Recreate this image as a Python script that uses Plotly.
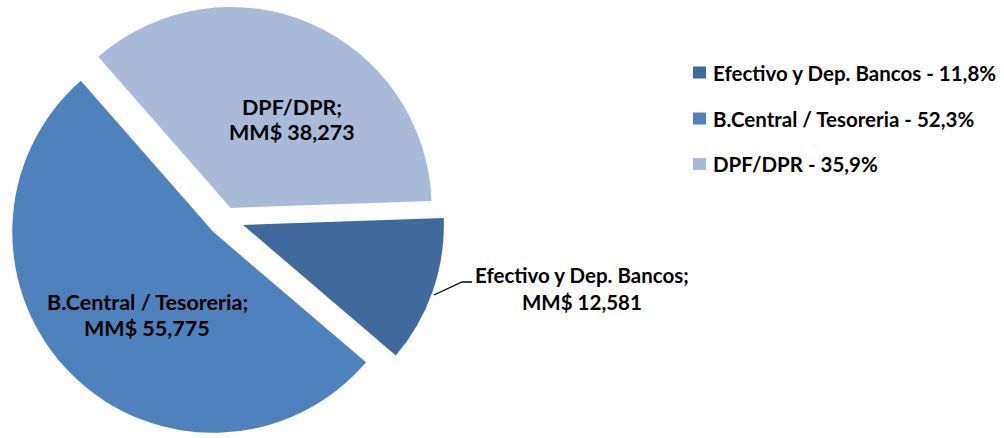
import plotly.graph_objects as go

W, H = 1004, 438

categories = ["Efectivo y Dep. Bancos", "B.Central / Tesoreria", "DPF/DPR"]
values = [12581, 55775, 38273]
colors = ["#406A9B", "#4F81BD", "#A9BAD8"]
pulls = [0.09, 0.09, 0.06]

total = sum(values)
pcts = [v / total * 100 for v in values]

FONT = "Lato"
fig = go.Figure()
fig.add_trace(go.Pie(
    labels=categories, values=values, sort=False, direction="clockwise",
    rotation=88, pull=pulls, textinfo="none", showlegend=False,
    marker=dict(colors=colors, line=dict(width=0)),
    domain=dict(x=[0, 0.45], y=[0, 1]),
))

def px(x, y):
    return x / W, 1 - y / H

def fmt(v):
    return f"{v:,}"

annotations = []
def add_text(text, x, y, size, xanchor="center"):
    ax, ay = px(x, y)
    annotations.append(dict(text=f"<b>{text}</b>", x=ax, y=ay, xref="paper", yref="paper",
                            showarrow=False, xanchor=xanchor, yanchor="middle",
                            font=dict(family=FONT, size=size, color="black")))

# slice labels: (name; value) -> (x centre, line1 y, line2 y, font size)
label_pos = {0: (582, 275, 302, 20.5), 1: (147, 302, 328, 21.5), 2: (292, 107, 132, 21.5)}
for i, (cx, y1, y2, fs) in label_pos.items():
    add_text(categories[i] + ";", cx, y1, fs)
    add_text("MM$ " + fmt(values[i]), cx, y2, fs)

shapes = []
# leader line for the outside label
p1, p2, p3 = px(434, 295), px(462, 282), px(472, 282)
shapes.append(dict(type="path", xref="paper", yref="paper",
                   path=f"M {p1[0]},{p1[1]} L {p2[0]},{p2[1]} L {p3[0]},{p3[1]}",
                   line=dict(color="black", width=1.3)))

# legend
LG = 20.5
for i, yy in enumerate([72.5, 118.5, 164]):
    x0, y0 = px(693, yy - 6)
    x1, y1 = px(706, yy + 6)
    shapes.append(dict(type="rect", xref="paper", yref="paper", x0=x0, y0=y0, x1=x1, y1=y1,
                       fillcolor=colors[i], line=dict(width=0)))
    pct = f"{pcts[i]:.1f}".replace(".", ",")
    add_text(f"{categories[i]} - {pct}%", 711, yy, LG, xanchor="left")

fig.update_layout(width=W, height=H, margin=dict(l=0, r=0, t=0, b=0),
                  paper_bgcolor="white", plot_bgcolor="white",
                  annotations=annotations, shapes=shapes)
fig.write_html("out.html", config={"displayModeBar": False},
               post_script="document.body.style.margin='0';document.body.style.overflow='hidden';")
